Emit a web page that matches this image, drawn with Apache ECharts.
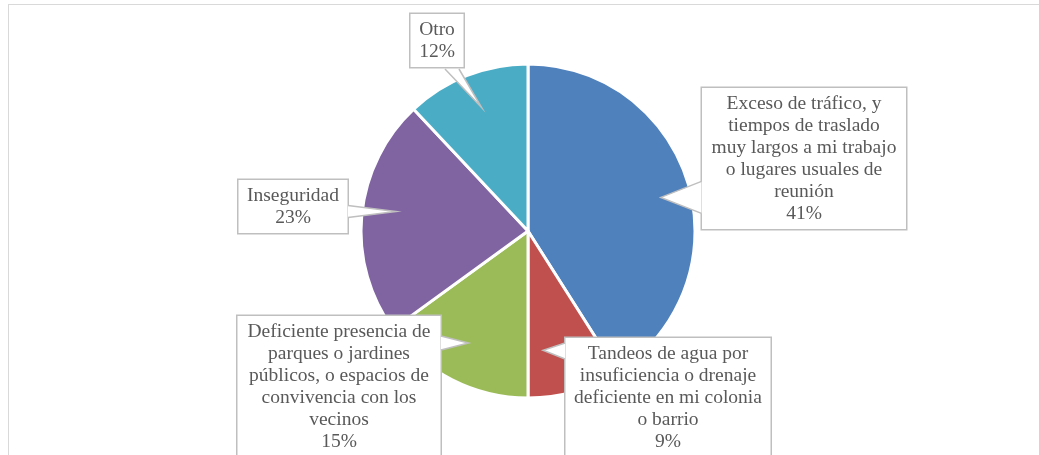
<!DOCTYPE html>
<html>
<head>
<meta charset="utf-8">
<script src="https://cdn.jsdelivr.net/npm/echarts@6/dist/echarts.min.js"></script>
<style>
html,body{margin:0;padding:0;background:#fff;overflow:hidden}
#frame{position:absolute;left:8px;top:4px;width:1080px;height:500px;border:1px solid #d9d9d9}
#main{position:absolute;left:0;top:0;width:1039px;height:455px}
</style>
</head>
<body>
<div id="frame"></div>
<div id="main"></div>
<script>
// datos (porcentajes)
var categories = [
    'Exceso de tráfico, y\ntiempos de traslado\nmuy largos a mi trabajo\no lugares usuales de\nreunión',
    'Tandeos de agua por\ninsuficiencia o drenaje\ndeficiente en mi colonia\no barrio',
    'Deficiente presencia de\nparques o jardines\npúblicos, o espacios de\nconvivencia con los\nvecinos',
    'Inseguridad',
    'Otro'
];
var values = [41, 9, 15, 23, 12];
var colors = ['#4F81BD', '#C0504D', '#9BBB59', '#8064A2', '#4BACC6'];

// cajas de etiqueta: [centro x, arriba y, ancho]
var labelBoxes = [
    [804, 88, 206],
    [668, 338, 207],
    [339, 316, 205],
    [293, 180, 111],
    [437, 14, 55]
];
// punta del callout: [fraccion del radio, giro en grados, medio ancho de la base]
var tipConf = [
    [0.82, 2, 16],
    [0.72, 9, 8],
    [0.76, 1, 7],
    [0.8, 3, 6],
    [0.79, 1, 7]
];
var labelSizes = [];

var chart = echarts.init(document.getElementById('main'));

function clamp(v, a, b) { return Math.max(a, Math.min(b, v)); }

var option = {
    animation: false,
    color: colors,
    series: [{
        type: 'pie',
        center: [528, 231],
        radius: 167,
        startAngle: 90,
        clockwise: true,
        itemStyle: { borderColor: '#fff', borderWidth: 3 },
        label: {
            show: true,
            fontFamily: 'Liberation Serif',
            fontSize: 19.5,
            lineHeight: 22,
            color: '#595959',
            backgroundColor: '#fff',
            borderColor: '#bfbfbf',
            borderWidth: 1.5,
            padding: [5, 4, 4, 4],
            formatter: function (p) { return p.name + '\n' + p.value + '%'; }
        },
        labelLine: { show: false },
        labelLayout: function (params) {
            var b = labelBoxes[params.dataIndex];
            labelSizes[params.dataIndex] = [params.labelRect.width, params.labelRect.height];
            return { x: b[0], y: b[1], align: 'center', verticalAlign: 'top' };
        },
        data: categories.map(function (c, i) {
            return { name: c, value: values[i], label: { width: labelBoxes[i][2] - 10 } };
        })
    }]
};

chart.setOption(option);

// puntas de las etiquetas (callout), a partir del layout del pie
var pieData = chart.getModel().getSeriesByIndex(0).getData();
var callouts = [];
values.forEach(function (v, i) {
    var lay = pieData.getItemLayout(i);
    var tc = tipConf[i];
    var mid = (lay.startAngle + lay.endAngle) / 2 + tc[1] * Math.PI / 180;
    var t = [lay.cx + lay.r * tc[0] * Math.cos(mid), lay.cy + lay.r * tc[0] * Math.sin(mid)];
    var b = labelBoxes[i], sz = labelSizes[i] || [b[2], 50];
    var left = b[0] - sz[0] / 2 + 1, right = b[0] + sz[0] / 2 - 1, top = b[1] + 1, bottom = b[1] + sz[1] - 1;
    var hw = tc[2];
    var dxL = left - t[0], dxR = t[0] - right, dyB = t[1] - bottom, dyT = top - t[1];
    var m = Math.max(dxL, dxR, dyB, dyT);
    var p1, p2;
    if (m === dxL || m === dxR) {
        var ex = m === dxL ? left : right;
        var cy = clamp(t[1], top + 12, bottom - 12);
        p1 = [ex, cy - hw]; p2 = [ex, cy + hw];
    } else {
        var ey = m === dyB ? bottom : top;
        var cx = clamp(t[0], left + 12, right - 12);
        p1 = [cx - hw, ey]; p2 = [cx + hw, ey];
    }
    callouts.push({ type: 'polygon', z: 100, shape: { points: [p1, t, p2] }, style: { fill: '#fff' } });
    callouts.push({ type: 'polyline', z: 101, shape: { points: [p1, t, p2] }, style: { stroke: '#bfbfbf', lineWidth: 1.5, fill: null } });
});
chart.setOption({ graphic: callouts });
</script>
</body>
</html>
